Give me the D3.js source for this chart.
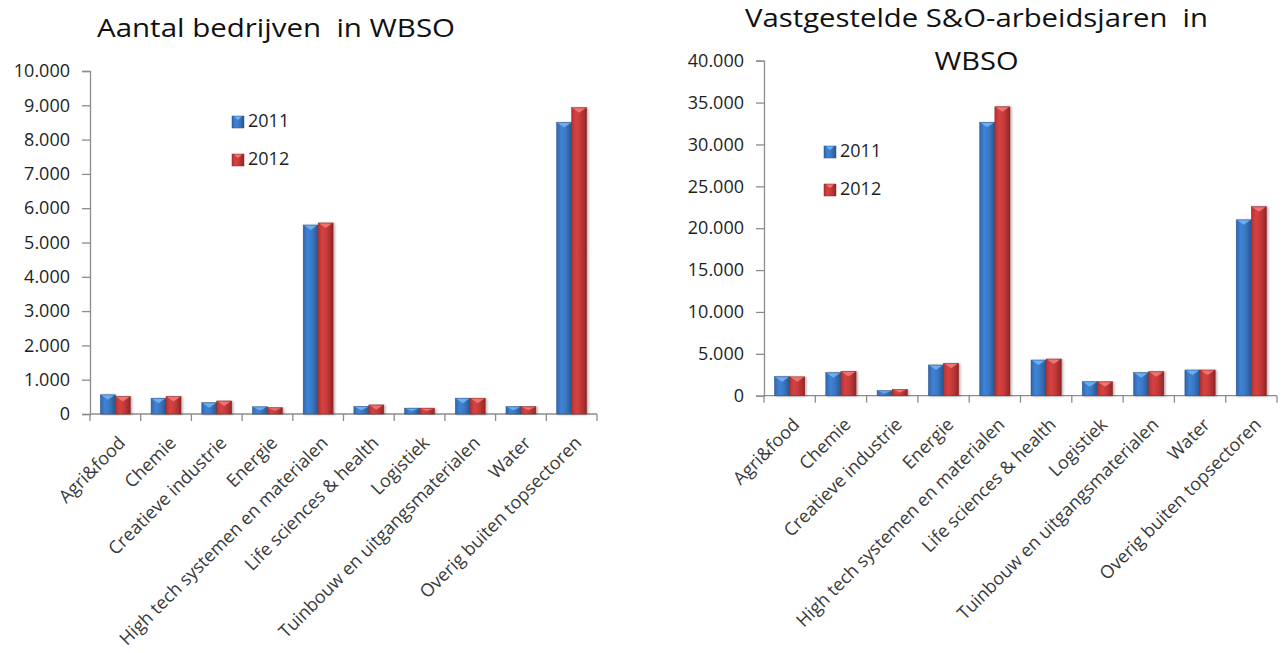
<!DOCTYPE html>
<html>
<head>
<meta charset="utf-8">
<script src="https://cdn.jsdelivr.net/npm/d3@7"></script>
<style>
  html, body { margin: 0; padding: 0; background: #ffffff; }
  svg { display: block; }
</style>
</head>
<body>
<script>
// ---- data ----
const categories = ["Agri&food", "Chemie", "Creatieve industrie", "Energie",
  "High tech systemen en materialen", "Life sciences & health", "Logistiek",
  "Tuinbouw en uitgangsmaterialen", "Water", "Overig buiten topsectoren"];
const seriesNames = ["2011", "2012"];
const bedrijven2011 = [560, 460, 330, 210, 5510, 220, 170, 460, 215, 8500];
const bedrijven2012 = [510, 510, 380, 185, 5570, 265, 170, 460, 215, 8930];
const arbeidsjaren2011 = [2270, 2750, 600, 3670, 32650, 4260, 1670, 2750, 3070, 21000];
const arbeidsjaren2012 = [2250, 2900, 760, 3870, 34500, 4380, 1670, 2870, 3070, 22570];
const ticksLeft = [0, 1000, 2000, 3000, 4000, 5000, 6000, 7000, 8000, 9000, 10000];
const ticksRight = [0, 5000, 10000, 15000, 20000, 25000, 30000, 35000, 40000];
const titleLeft = ["Aantal bedrijven  in WBSO"];
const titleRight = ["Vastgestelde S&O-arbeidsjaren  in", "WBSO"];

const W = 1285, H = 653;
const FONT = "'Open Sans', 'Liberation Sans', sans-serif";
const nl = d3.formatLocale({decimal: ",", thousands: ".", grouping: [3], currency: ["€", ""]});
const fmt = nl.format(",d");

const svg = d3.select("body").append("svg").attr("width", W).attr("height", H);
const defs = svg.append("defs");

const palettes = {
  "2011": {stops: ["#2f66ad", "#3f83d6", "#3a78c4", "#2a5690"], tri: "#72b4f2", stroke: "#2a5288"},
  "2012": {stops: ["#b83232", "#d64242", "#c53939", "#922626"], tri: "#f27a78", stroke: "#8a2626"}
};
Object.entries(palettes).forEach(([k, p]) => {
  const g = defs.append("linearGradient").attr("id", "grad" + k)
    .attr("x1", "0%").attr("x2", "100%").attr("y1", "0%").attr("y2", "0%");
  [0, 30, 60, 100].forEach((o, j) => g.append("stop").attr("offset", o + "%").attr("stop-color", p.stops[j]));
});
const f = defs.append("filter").attr("id", "shadow").attr("x", "-20%").attr("y", "-5%").attr("width", "150%").attr("height", "115%");
f.append("feDropShadow").attr("dx", 1.5).attr("dy", 0.5).attr("stdDeviation", 1).attr("flood-color", "#000").attr("flood-opacity", 0.3);

function drawChart(cfg) {
  const g = svg.append("g");
  const x = d3.scaleBand().domain(categories).range([cfg.x0, cfg.x1]).paddingInner(0).paddingOuter(0);
  const y = d3.scaleLinear().domain([0, cfg.max]).range([cfg.y0, cfg.y1]);
  const groupW = x.bandwidth() * 0.59;
  const xs = d3.scaleBand().domain(seriesNames).range([0, groupW]).padding(0);
  const groupOff = (x.bandwidth() - groupW) / 2;

  // y axis
  const yAxis = d3.axisLeft(y).tickValues(cfg.ticks).tickFormat(fmt).tickSize(8).tickPadding(12);
  const ya = g.append("g").attr("transform", `translate(${cfg.x0},0)`).call(yAxis);
  ya.select(".domain").attr("stroke", "#8c8c8c").attr("stroke-width", 1.3);
  ya.selectAll(".tick line").attr("stroke", "#8c8c8c").attr("stroke-width", 1.3);
  ya.selectAll(".tick text").attr("font-family", FONT).attr("font-size", 18).attr("fill", "#1e1e1e");

  // x axis: ticks at band boundaries
  const xa = g.append("g").attr("transform", `translate(0,${cfg.y0})`);
  xa.append("line").attr("x1", cfg.x0).attr("x2", cfg.x1).attr("stroke", "#8c8c8c").attr("stroke-width", 1.3);
  const bounds = categories.map(c => x(c)).concat([x(categories[categories.length - 1]) + x.bandwidth()]);
  xa.selectAll("line.tk").data(bounds).enter().append("line").attr("class", "tk")
    .attr("x1", d => d).attr("x2", d => d).attr("y1", 0).attr("y2", 7)
    .attr("stroke", "#8c8c8c").attr("stroke-width", 1.3);
  xa.selectAll("text").data(categories).enter().append("text")
    .attr("transform", d => `translate(${x(d) + x.bandwidth() / 2 + 11},${30}) rotate(-45)`)
    .attr("text-anchor", "end").attr("font-family", FONT).attr("font-size", 18).attr("fill", "#3a3a3a")
    .text(d => d);

  // bars
  cfg.series.forEach((vals, si) => {
    const name = seriesNames[si];
    const p = palettes[name];
    const bg = g.append("g");
    const bw = xs.bandwidth();
    const data = categories.map((c, i) => ({c, v: vals[i]}));
    bg.selectAll("rect").data(data).enter().append("rect")
      .attr("x", d => x(d.c) + groupOff + xs(name))
      .attr("y", d => y(d.v))
      .attr("width", bw)
      .attr("height", d => y(0) - y(d.v))
      .attr("fill", `url(#grad${name})`)
      .attr("stroke", p.stroke).attr("stroke-width", 0.5)
      .attr("filter", "url(#shadow)");
    bg.selectAll("path").data(data).enter().append("path")
      .attr("d", d => {
        const bx = x(d.c) + groupOff + xs(name), by = y(d.v);
        const h = Math.min(5, (y(0) - by) * 0.5);
        return `M${bx + 1},${by + 0.5} L${bx + bw - 1},${by + 0.5} L${bx + bw / 2},${by + h} Z`;
      })
      .attr("fill", p.tri).attr("opacity", 0.9);
  });

  // legend
  const lg = g.append("g");
  seriesNames.forEach((name, i) => {
    const ly = cfg.legY[i];
    const p = palettes[name];
    lg.append("rect").attr("x", cfg.legX).attr("y", ly - 11).attr("width", 12).attr("height", 12)
      .attr("fill", `url(#grad${name})`).attr("stroke", p.stroke).attr("stroke-width", 0.5);
    lg.append("path").attr("d", `M${cfg.legX + 2},${ly - 10.5} L${cfg.legX + 10},${ly - 10.5} L${cfg.legX + 6},${ly - 7} Z`)
      .attr("fill", p.tri);
    lg.append("text").attr("x", cfg.legX + 16).attr("y", ly)
      .attr("font-family", FONT).attr("font-size", 18).attr("fill", "#1e1e1e").text(name);
  });

  // title
  cfg.title.forEach((t, i) => {
    g.append("text").attr("x", cfg.titleX).attr("y", cfg.titleY[i])
      .attr("text-anchor", "middle").attr("font-family", FONT).attr("font-size", 25)
      .attr("fill", "#111").attr("textLength", cfg.titleLen[i]).attr("lengthAdjust", "spacingAndGlyphs")
      .style("white-space", "pre").attr("xml:space", "preserve")
      .text(t);
  });
}

drawChart({
  x0: 90, x1: 597, y0: 414, y1: 71, max: 10000, ticks: ticksLeft,
  series: [bedrijven2011, bedrijven2012],
  legX: 232, legY: [127, 165],
  title: titleLeft, titleX: 276, titleY: [37], titleLen: [358]
});
drawChart({
  x0: 764, x1: 1277, y0: 395.7, y1: 60.7, max: 40000, ticks: ticksRight,
  series: [arbeidsjaren2011, arbeidsjaren2012],
  legX: 824, legY: [157, 195],
  title: titleRight, titleX: 976.5, titleY: [27, 70], titleLen: [463, 84]
});
</script>
</body>
</html>
